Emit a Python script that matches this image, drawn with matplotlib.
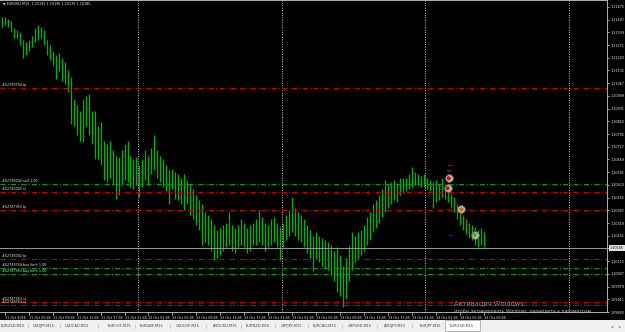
import numpy as np
import matplotlib.pyplot as plt
from matplotlib.patches import Rectangle

# EURUSD half-hour highs / lows, hours counted from 11 Oct 2016 01:15
bar_high = [1.1142, 1.1142, 1.1141, 1.1140, 1.1136, 1.1135, 1.1134, 1.1130, 1.1129, 1.1130,
            1.1132, 1.1136, 1.1138, 1.1137, 1.1135, 1.1130, 1.1127, 1.1124, 1.1122, 1.1123,
            1.1120, 1.1118, 1.1114, 1.1110, 1.1098, 1.1095, 1.1092, 1.1098, 1.1100, 1.1101,
            1.1092, 1.1092, 1.1084, 1.1086, 1.1076, 1.1074, 1.1076, 1.1071, 1.1068, 1.1067,
            1.1071, 1.1074, 1.1076, 1.1068, 1.1066, 1.1067, 1.1063, 1.1066, 1.1071, 1.1068,
            1.1072, 1.1079, 1.1071, 1.1068, 1.1066, 1.1063, 1.1060, 1.1061, 1.1059, 1.1058,
            1.1056, 1.1058, 1.1055, 1.1052, 1.1050, 1.1047, 1.1044, 1.1042, 1.1038, 1.1036,
            1.1034, 1.1031, 1.1028, 1.1029, 1.1031, 1.1032, 1.1038, 1.1031, 1.1029, 1.1031,
            1.1034, 1.1032, 1.1029, 1.1031, 1.1032, 1.1034, 1.1039, 1.1035, 1.1032, 1.1031,
            1.1034, 1.1035, 1.1032, 1.1030, 1.1032, 1.1036, 1.1039, 1.1046, 1.1040, 1.1038,
            1.1036, 1.1034, 1.1031, 1.1028, 1.1025, 1.1027, 1.1025, 1.1024, 1.1023, 1.1022,
            1.1020, 1.1017, 1.1019, 1.1015, 1.1009, 1.1013, 1.1020, 1.1027, 1.1025, 1.1027,
            1.1028, 1.1031, 1.1035, 1.1038, 1.1042, 1.1044, 1.1047, 1.1050, 1.1055, 1.1052,
            1.1054, 1.1055, 1.1053, 1.1056, 1.1056, 1.1056, 1.1058, 1.1062, 1.1059, 1.1058,
            1.1057, 1.1058, 1.1056, 1.1055, 1.1054, 1.1055, 1.1053, 1.1056, 1.1051, 1.1050,
            1.1048, 1.1046, 1.1042, 1.1039, 1.1036, 1.1034, 1.1032, 1.1031, 1.1030, 1.1028,
            1.1029, 1.1027]
bar_low = [1.1137, 1.1138, 1.1137, 1.1134, 1.1131, 1.1131, 1.1127, 1.1120, 1.1122, 1.1124,
           1.1126, 1.1129, 1.1130, 1.1131, 1.1127, 1.1122, 1.1119, 1.1116, 1.1109, 1.1113,
           1.1108, 1.1106, 1.1102, 1.1085, 1.1084, 1.1079, 1.1076, 1.1075, 1.1084, 1.1079,
           1.1074, 1.1066, 1.1066, 1.1063, 1.1055, 1.1054, 1.1056, 1.1052, 1.1045, 1.1047,
           1.1052, 1.1055, 1.1054, 1.1051, 1.1050, 1.1052, 1.1046, 1.1051, 1.1055, 1.1052,
           1.1058, 1.1060, 1.1056, 1.1054, 1.1051, 1.1049, 1.1042, 1.1050, 1.1045, 1.1044,
           1.1042, 1.1039, 1.1042, 1.1036, 1.1034, 1.1031, 1.1028, 1.1020, 1.1022, 1.1020,
           1.1017, 1.1012, 1.1013, 1.1015, 1.1017, 1.1019, 1.1020, 1.1017, 1.1016, 1.1019,
           1.1020, 1.1019, 1.1016, 1.1017, 1.1020, 1.1020, 1.1022, 1.1020, 1.1017, 1.1019,
           1.1020, 1.1022, 1.1019, 1.1012, 1.1019, 1.1023, 1.1025, 1.1027, 1.1025, 1.1023,
           1.1022, 1.1019, 1.1016, 1.1013, 1.1006, 1.1013, 1.1011, 1.1009, 1.1008, 1.1007,
           1.1004, 1.1001, 1.0995, 1.0993, 1.0987, 1.0991, 1.1001, 1.1007, 1.1011, 1.1013,
           1.1015, 1.1017, 1.1020, 1.1023, 1.1027, 1.1029, 1.1032, 1.1035, 1.1038, 1.1040,
           1.1042, 1.1044, 1.1043, 1.1047, 1.1048, 1.1049, 1.1050, 1.1051, 1.1052, 1.1052,
           1.1051, 1.1051, 1.1050, 1.1049, 1.1040, 1.1043, 1.1044, 1.1046, 1.1045, 1.1043,
           1.1040, 1.1038, 1.1034, 1.1031, 1.1028, 1.1026, 1.1024, 1.1023, 1.1020, 1.1019,
           1.1020, 1.1019]
bar_hours = np.arange(len(bar_high)) * 0.5

bid = 1.10185
header = "\u25BC EURUSD,M15  1.10192 1.10196 1.10178 1.10185"

# pending orders / stops drawn as horizontal lines
order_prices = [1.11041, 1.10528, 1.10485, 1.10389, 1.10126, 1.10078, 1.10046, 1.09896, 1.09880]
order_labels = ["#52749764 tp", "#52726002 sell 1.00", "#52726002 sl", "#52747953 tp",
                "#52726002 tp", "#52749764 buy limit 1.00", "#52747953 buy limit 1.00",
                "#52747953 sl", "#52749764 sl"]
order_kind = ["stop", "order", "stop", "stop", "stop", "order", "order", "stop", "stop"]

# trade history arrows
trade_hours = [74.67, 74.46, 76.79, 79.0]
trade_prices = [1.10558, 1.10505, 1.10392, 1.10256]
trade_dot = ["#d01010", "#d01010", "#c07030", "#60a030"]
red_mark_hours = [74.8, 74.6]
red_mark_prices = [1.10629, 1.10605]
blue_mark_hours = [74.6, 74.8]
blue_mark_prices = [1.10394, 1.10255]
trade_line_hours = [74.46, 78.18]
trade_line_prices = [1.10505, 1.10298]

day_breaks = [22.75, 46.75, 70.75, 94.75]

price_ticks = [1.11475, 1.11407, 1.11339, 1.11271, 1.11203, 1.11135, 1.11067, 1.10999,
               1.10931, 1.10863, 1.10795, 1.10727, 1.10659, 1.10591, 1.10523, 1.10455,
               1.10387, 1.10319, 1.10251, 1.10183, 1.10115, 1.10047, 1.09979, 1.09911,
               1.09843]
time_labels = ["11 Oct 2016", "11 Oct 05:45", "11 Oct 09:45", "11 Oct 13:45", "11 Oct 17:45",
               "11 Oct 21:45", "12 Oct 01:45", "12 Oct 05:45", "12 Oct 09:45", "12 Oct 13:45",
               "12 Oct 17:45", "12 Oct 21:45", "13 Oct 01:45", "13 Oct 05:45", "13 Oct 09:45",
               "13 Oct 13:45", "13 Oct 17:45", "13 Oct 21:45", "14 Oct 01:45", "14 Oct 05:45",
               "14 Oct 09:45"]
time_label_hours = np.arange(len(time_labels)) * 4 + 0.5

tabs = ["EURUSD,M15", "USDJPY,M15", "USDCAD,M15", "EURCHF,M15", "EURGBP,M15", "USDCHF,M15",
        "AUDUSD,M15", "EURNZD,M15", "GBPJPY,M15", "EURCAD,M15", "GBPUSD,M15", "AUDJPY,M15",
        "EURJPY,M15", "EURUSD,M15"]
tab_px = [13, 44, 77, 119, 152, 188, 225, 258, 292, 325, 360, 395, 430, 462]

plt.rcParams['font.family'] = 'DejaVu Sans'
W, H = 625, 332
fig = plt.figure(figsize=(W / 100, H / 100), dpi=100, facecolor='black')
ax = fig.add_axes([0, 20 / H, 607 / W, 312 / H], facecolor='black')

ax.vlines(bar_hours, bar_low, bar_high, color='#00b400', lw=0.95)

for t in day_breaks:
    ax.axvline(t, color='#c8c8c8', lw=0.7, ls=(0, (1, 1.5)))

RED, GREEN = '#c80000', '#00a000'
for p, lbl, k in zip(order_prices, order_labels, order_kind):
    c = RED if k == "stop" else GREEN
    ax.axhline(p, color=c, lw=0.75, dashes=(5, 2, 1, 2))
    ax.annotate(lbl, xy=(0, p), xycoords=('axes fraction', 'data'), xytext=(1.5, 0.6),
                textcoords='offset points', fontsize=2.4, color='#e8e8e8', va='bottom')

ax.axhline(bid, color='#9a9a9a', lw=0.7)

ax.plot(trade_line_hours, trade_line_prices, color=RED, lw=0.8, ls=(0, (1, 1.2)))
ax.scatter(red_mark_hours, red_mark_prices, marker='_', s=6, color=RED, lw=0.9)
ax.scatter(blue_mark_hours, blue_mark_prices, marker='_', s=6, color='#2020a0', lw=0.9)
ax.scatter(trade_hours, trade_prices, s=30, facecolor='#b4bca8', edgecolor='#6c7468', lw=0.5, zorder=5)
ax.scatter(trade_hours, trade_prices, s=4, color=trade_dot, zorder=6)

ax.set_xlim(-0.3, 101.1)
ax.set_ylim(1.09843, 1.11512)
ax.yaxis.tick_right()
ax.set_yticks(price_ticks)
ax.set_yticklabels([f"{v:.5f}" for v in price_ticks])
ax.set_xticks(time_label_hours)
ax.set_xticklabels(time_labels)
for lab in ax.get_xticklabels():
    lab.set_horizontalalignment('left')
ax.tick_params(axis='y', colors='#e8e8e8', labelsize=2.4, length=1.5, width=0.5, pad=1)
ax.tick_params(axis='x', colors='#e8e8e8', labelsize=2.4, length=2, width=0.5, pad=0.8)
ax.spines['left'].set_visible(False)
for s in ['top', 'right', 'bottom']:
    ax.spines[s].set_color('#b0b0b0')
    ax.spines[s].set_linewidth(0.7)

ax.annotate(f"{bid:.5f}", xy=(1, bid), xycoords=('axes fraction', 'data'), xytext=(2.2, 0),
            textcoords='offset points', va='center', fontsize=2.4, color='black',
            bbox=dict(boxstyle='square,pad=0.25', fc='#e4e4e4', ec='none'))

fig.text(3 / W, 1 - 3.5 / H, header, fontsize=2.4, color='#e8e8e8', va='center')

fig.text(454 / W, 1 - 303 / H, "Активация Windows", fontsize=4.8, color='#8c8c8c', va='center')
fig.text(454 / W, 1 - 311 / H, "Чтобы активировать Windows, перейдите к параметрам",
         fontsize=3.3, color='#b4b4b4', va='center')

# symbol tab bar
fig.patches.append(Rectangle((0, 0), 1, 12 / H, transform=fig.transFigure,
                             fc='#f0f0f0', ec='none'))
fig.patches.append(Rectangle((445 / W, 1 / H), 35 / W, 11.5 / H, transform=fig.transFigure,
                             fc='white', ec='#9a9a9a', lw=0.5))
for i, (name, cx) in enumerate(zip(tabs, tab_px)):
    fig.text(cx / W, 6 / H, name, fontsize=2.6, color='#404040', ha='center', va='center')
    if i < len(tabs) - 2:
        fig.text((cx + tab_px[i + 1]) / 2 / W, 6 / H, "|", fontsize=3, color='#909090',
                 ha='center', va='center')
fig.text(612 / W, 6 / H, "\u25C2", fontsize=3, color='#707070', ha='center', va='center')
fig.text(620 / W, 6 / H, "\u25B8", fontsize=3, color='#707070', ha='center', va='center')

fig.savefig('out.png', dpi=100, facecolor='black')
